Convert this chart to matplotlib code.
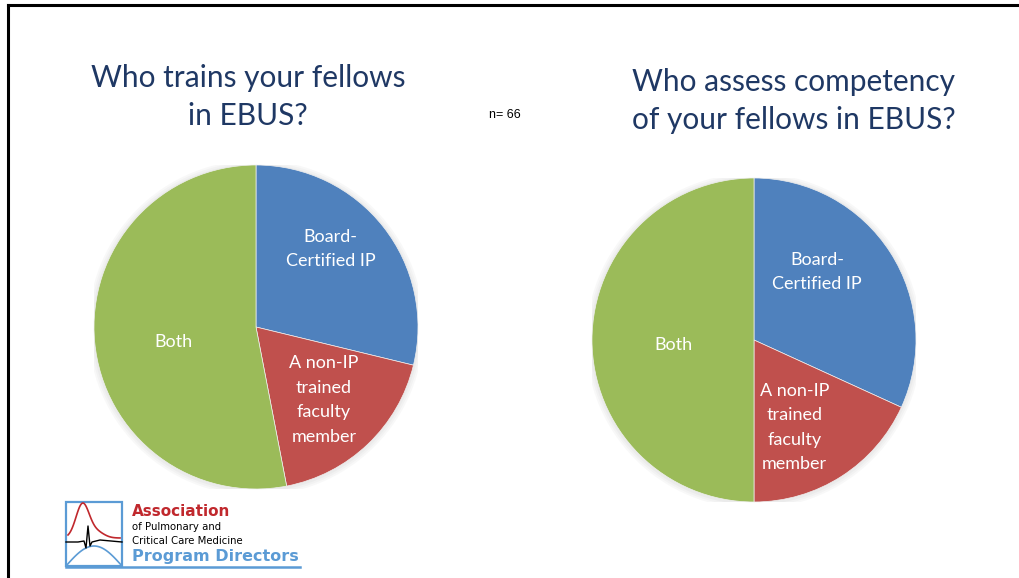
import numpy as np
import matplotlib.pyplot as plt
from matplotlib.patches import Circle, Rectangle

plt.rcParams['font.family'] = ['Lato', 'DejaVu Sans']

# Survey answers (n = 66)
categories = ["Board-\nCertified IP", "A non-IP\ntrained\nfaculty\nmember", "Both"]
trains_counts = [19, 12, 35]
assess_counts = [21, 12, 33]
n_total = 66

titles = ["Who trains your fellows\nin EBUS?",
          "Who assess competency\nof your fellows in EBUS?"]

colors = ["#4F81BD", "#C0504D", "#9BBB59"]
title_col = "#1F3864"

W, H = 1020, 578
fig = plt.figure(figsize=(W/100, H/100), dpi=100)

def px_axes(x0, y0, x1, y1):
    # pixel box (top-left origin) -> figure axes
    return fig.add_axes([x0/W, 1 - y1/H, (x1-x0)/W, (y1-y0)/H])

# label offsets inside each pie (fraction of radius)
label_pos = [
    [(0.46, 0.48), (0.42, -0.45), (-0.51, -0.09)],
    [(0.39, 0.42), (0.25, -0.54), (-0.50, -0.03)],
]

pie_boxes = [(94, 165, 418, 489), (592, 178, 916, 502)]

for i, counts in enumerate([trains_counts, assess_counts]):
    ax = px_axes(*pie_boxes[i])
    # soft shadow
    for k, a in enumerate([0.05, 0.05, 0.06]):
        ax.add_patch(Circle((0, -0.005), 1.0 + 0.012*(3-k), color="#888888",
                            alpha=a, lw=0, zorder=0))
    ax.pie(counts, colors=colors, startangle=90, counterclock=False,
           radius=1.0, wedgeprops=dict(linewidth=0.5, edgecolor="#f0f0f0"))
    ax.set_xlim(-1.0, 1.0)
    ax.set_ylim(-1.0, 1.0)
    ax.set_aspect('equal')
    ax.axis('off')
    for lab, (lx, ly) in zip(categories, label_pos[i]):
        ax.text(lx, ly, lab, color="white", fontsize=13, ha="center",
                va="center", linespacing=1.65)

# titles
fig.text(248/W, 1 - 97/H, titles[0], color=title_col, fontsize=21.5,
         ha="center", va="center", linespacing=1.4)
fig.text(794/W, 1 - 101/H, titles[1], color=title_col, fontsize=21.5,
         ha="center", va="center", linespacing=1.4)
fig.text(505/W, 1 - 115/H, "n= " + str(n_total), color="black", fontsize=9,
         ha="center", va="center", family=["Liberation Sans", "DejaVu Sans"])

# slide border (top and left)
fig.add_artist(plt.Line2D([8/W, 1], [1 - 5/H, 1 - 5/H], color="black", lw=2.2))
fig.add_artist(plt.Line2D([8/W, 8/W], [0, 1 - 5/H], color="black", lw=2.2))

# logo
lax = px_axes(60, 498, 310, 572)
lax.set_xlim(0, 250)
lax.set_ylim(74, 0)
lax.axis('off')
lax.add_patch(Rectangle((6, 4), 56, 64, fill=False, ec="#5B9BD5", lw=1.6))
lax.plot([6, 240], [69, 69], color="#5B9BD5", lw=1.8)
t = np.linspace(0, 1, 60)
lax.plot(6 + 56*t, 68 - 20*np.sin(np.pi*t), color="#5B9BD5", lw=1.2)
lax.plot(8 + 52*t, 40 - 34*np.exp(-((t-0.28)/0.18)**2) - 6*np.exp(-((t-0.55)/0.2)**2),
         color="#C0282D", lw=1.2)
ecg_x = [6, 18, 24, 26, 28, 30, 32, 40, 62]
ecg_y = [44, 44, 43, 50, 28, 48, 44, 42, 44]
lax.plot(ecg_x, ecg_y, color="black", lw=1.0)
lax.text(72, 14, "Association", color="#C0282D", fontsize=11, fontweight="bold",
         va="center", family=["DejaVu Sans"])
lax.text(72, 29, "of Pulmonary and", color="black", fontsize=7.3, va="center",
         family=["DejaVu Sans"])
lax.text(72, 43, "Critical Care Medicine", color="black", fontsize=7.3, va="center",
         family=["DejaVu Sans"])
lax.text(72, 58, "Program Directors", color="#5B9BD5", fontsize=11.5,
         fontweight="bold", va="center", family=["DejaVu Sans"])

fig.savefig("out.png", dpi=100)
